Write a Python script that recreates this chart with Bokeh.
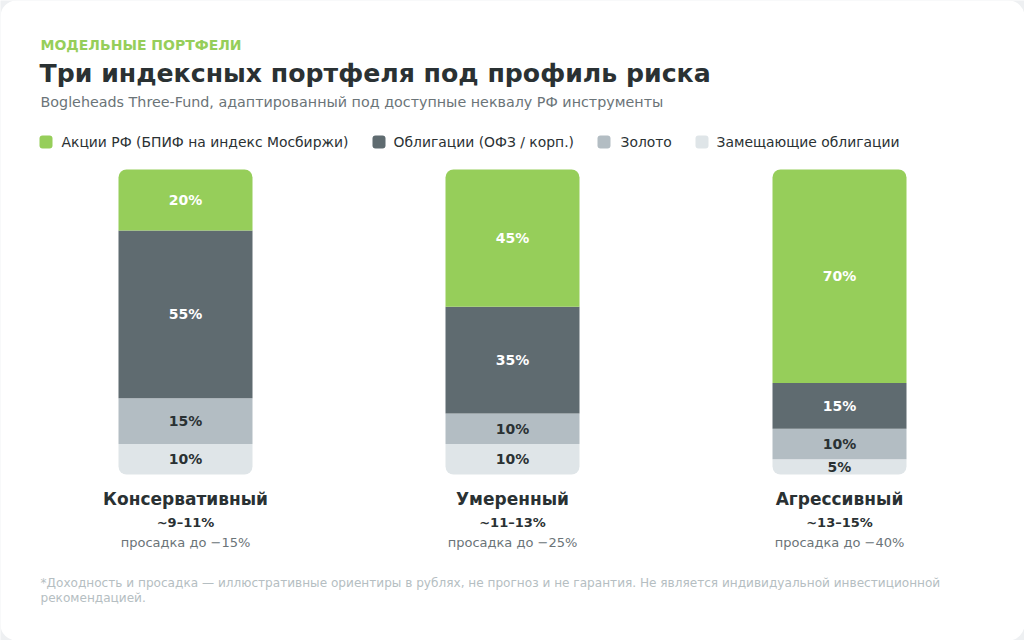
from bokeh.plotting import figure
from bokeh.models import ColumnDataSource, Range1d
from bokeh.core.properties import value
from bokeh.embed import file_html
from bokeh.resources import INLINE

# ---- data ----
portfolios = ["Консервативный", "Умеренный", "Агрессивный"]
returns = ["~9–11%", "~11–13%", "~13–15%"]
drawdowns = ["просадка до −15%", "просадка до −25%", "просадка до −40%"]

series_names = ["Акции РФ (БПИФ на индекс Мосбиржи)", "Облигации (ОФЗ / корп.)",
                "Золото", "Замещающие облигации"]
stocks = [20, 45, 70]
bonds = [55, 35, 15]
gold = [15, 10, 10]
replacement = [10, 10, 5]

colors = ["#96CE5A", "#5F6B70", "#B3BDC3", "#DFE5E8"]
label_colors = ["#FFFFFF", "#FFFFFF", "#2A3133", "#2A3133"]

FONT = "DejaVu Sans"
W, H = 1024, 640

p = figure(width=W, height=H, x_range=Range1d(0, W), y_range=Range1d(H, 0),
           output_backend="svg", toolbar_location=None, min_border=0)
p.axis.visible = False
p.grid.visible = False
p.outline_line_color = None
p.background_fill_color = "#EEF0F2"
p.border_fill_color = "#EEF0F2"

# card
p.quad(left=[0], right=[W], top=[0], bottom=[H], fill_color="white", line_color=None,
       border_radius=16)

# percent scale for bars: 100% at y=169px, 0% at y=474px
top_px, bot_px = 169.0, 474.0
span = bot_px - top_px
p.extra_y_ranges = {"pct": Range1d(start=-(H - bot_px) / span * 100, end=bot_px / span * 100)}

centers = [185, 512, 839]
bar_w = 134

# stack from bottom: replacement, gold, bonds, stocks
stack_order = [3, 2, 1, 0]
series_vals = [stocks, bonds, gold, replacement]
cum = [0, 0, 0]
for k, si in enumerate(stack_order):
    vals = series_vals[si]
    bottoms = list(cum)
    tops = [c + v for c, v in zip(cum, vals)]
    cum = tops
    if si == 0:
        br = (8, 8, 0, 0)
    elif si == 3:
        br = (0, 0, 8, 8)
    else:
        br = 0
    src = ColumnDataSource(dict(x=centers, bottom=bottoms, top=tops,
                                mid=[(b + t) / 2 for b, t in zip(bottoms, tops)],
                                lab=[f"{v}%" for v in vals]))
    p.vbar(x="x", width=bar_w, bottom="bottom", top="top", source=src,
           fill_color=colors[si], line_color=None, border_radius=br, y_range_name="pct")
    p.text(x="x", y="mid", text="lab", source=src, y_range_name="pct",
           text_align="center", text_baseline="middle", text_font=value(FONT),
           text_font_style="bold", text_font_size="14px", text_color=label_colors[si])

# header texts
p.text(x=[40], y=[44], text=["МОДЕЛЬНЫЕ ПОРТФЕЛИ"], text_font=value(FONT),
       text_font_style="bold", text_font_size="14px", text_color="#96CE5A",
       text_baseline="middle")
p.text(x=[39], y=[73], text=["Три индексных портфеля под профиль риска"], text_font=value(FONT),
       text_font_style="bold", text_font_size="25.2px", text_color="#2A3133",
       text_baseline="middle")
p.text(x=[40], y=[101], text=["Bogleheads Three-Fund, адаптированный под доступные неквалу РФ инструменты"],
       text_font=value(FONT), text_font_size="14.3px", text_color="#6B7478",
       text_baseline="middle")

# legend
leg_sq_x = [39, 372, 597, 695]
leg_txt_x = [61, 393, 620, 716]
p.quad(left=leg_sq_x, right=[x + 13 for x in leg_sq_x], top=[135] * 4, bottom=[148] * 4,
       fill_color=colors, line_color=None, border_radius=3)
p.text(x=leg_txt_x, y=[141.5] * 4, text=series_names, text_font=value(FONT),
       text_font_size="13.9px", text_color="#2A3133", text_baseline="middle")

# bottom labels
p.text(x=centers, y=[498] * 3, text=portfolios, text_font=value(FONT), text_font_style="bold",
       text_font_size="17px", text_color="#2A3133", text_align="center", text_baseline="middle")
p.text(x=centers, y=[522] * 3, text=returns, text_font=value(FONT), text_font_style="bold",
       text_font_size="13px", text_color="#2A3133", text_align="center", text_baseline="middle")
p.text(x=centers, y=[542] * 3, text=drawdowns, text_font=value(FONT),
       text_font_size="13px", text_color="#6B7478", text_align="center", text_baseline="middle")

# footnote
p.text(x=[40, 40], y=[582, 597],
       text=["*Доходность и просадка — иллюстративные ориентиры в рублях, не прогноз и не гарантия. Не является индивидуальной инвестиционной",
             "рекомендацией."],
       text_font=value(FONT), text_font_size="12.1px", text_color="#B5BEC2", text_baseline="middle")

open("out.html", "w").write(file_html(p, INLINE))
